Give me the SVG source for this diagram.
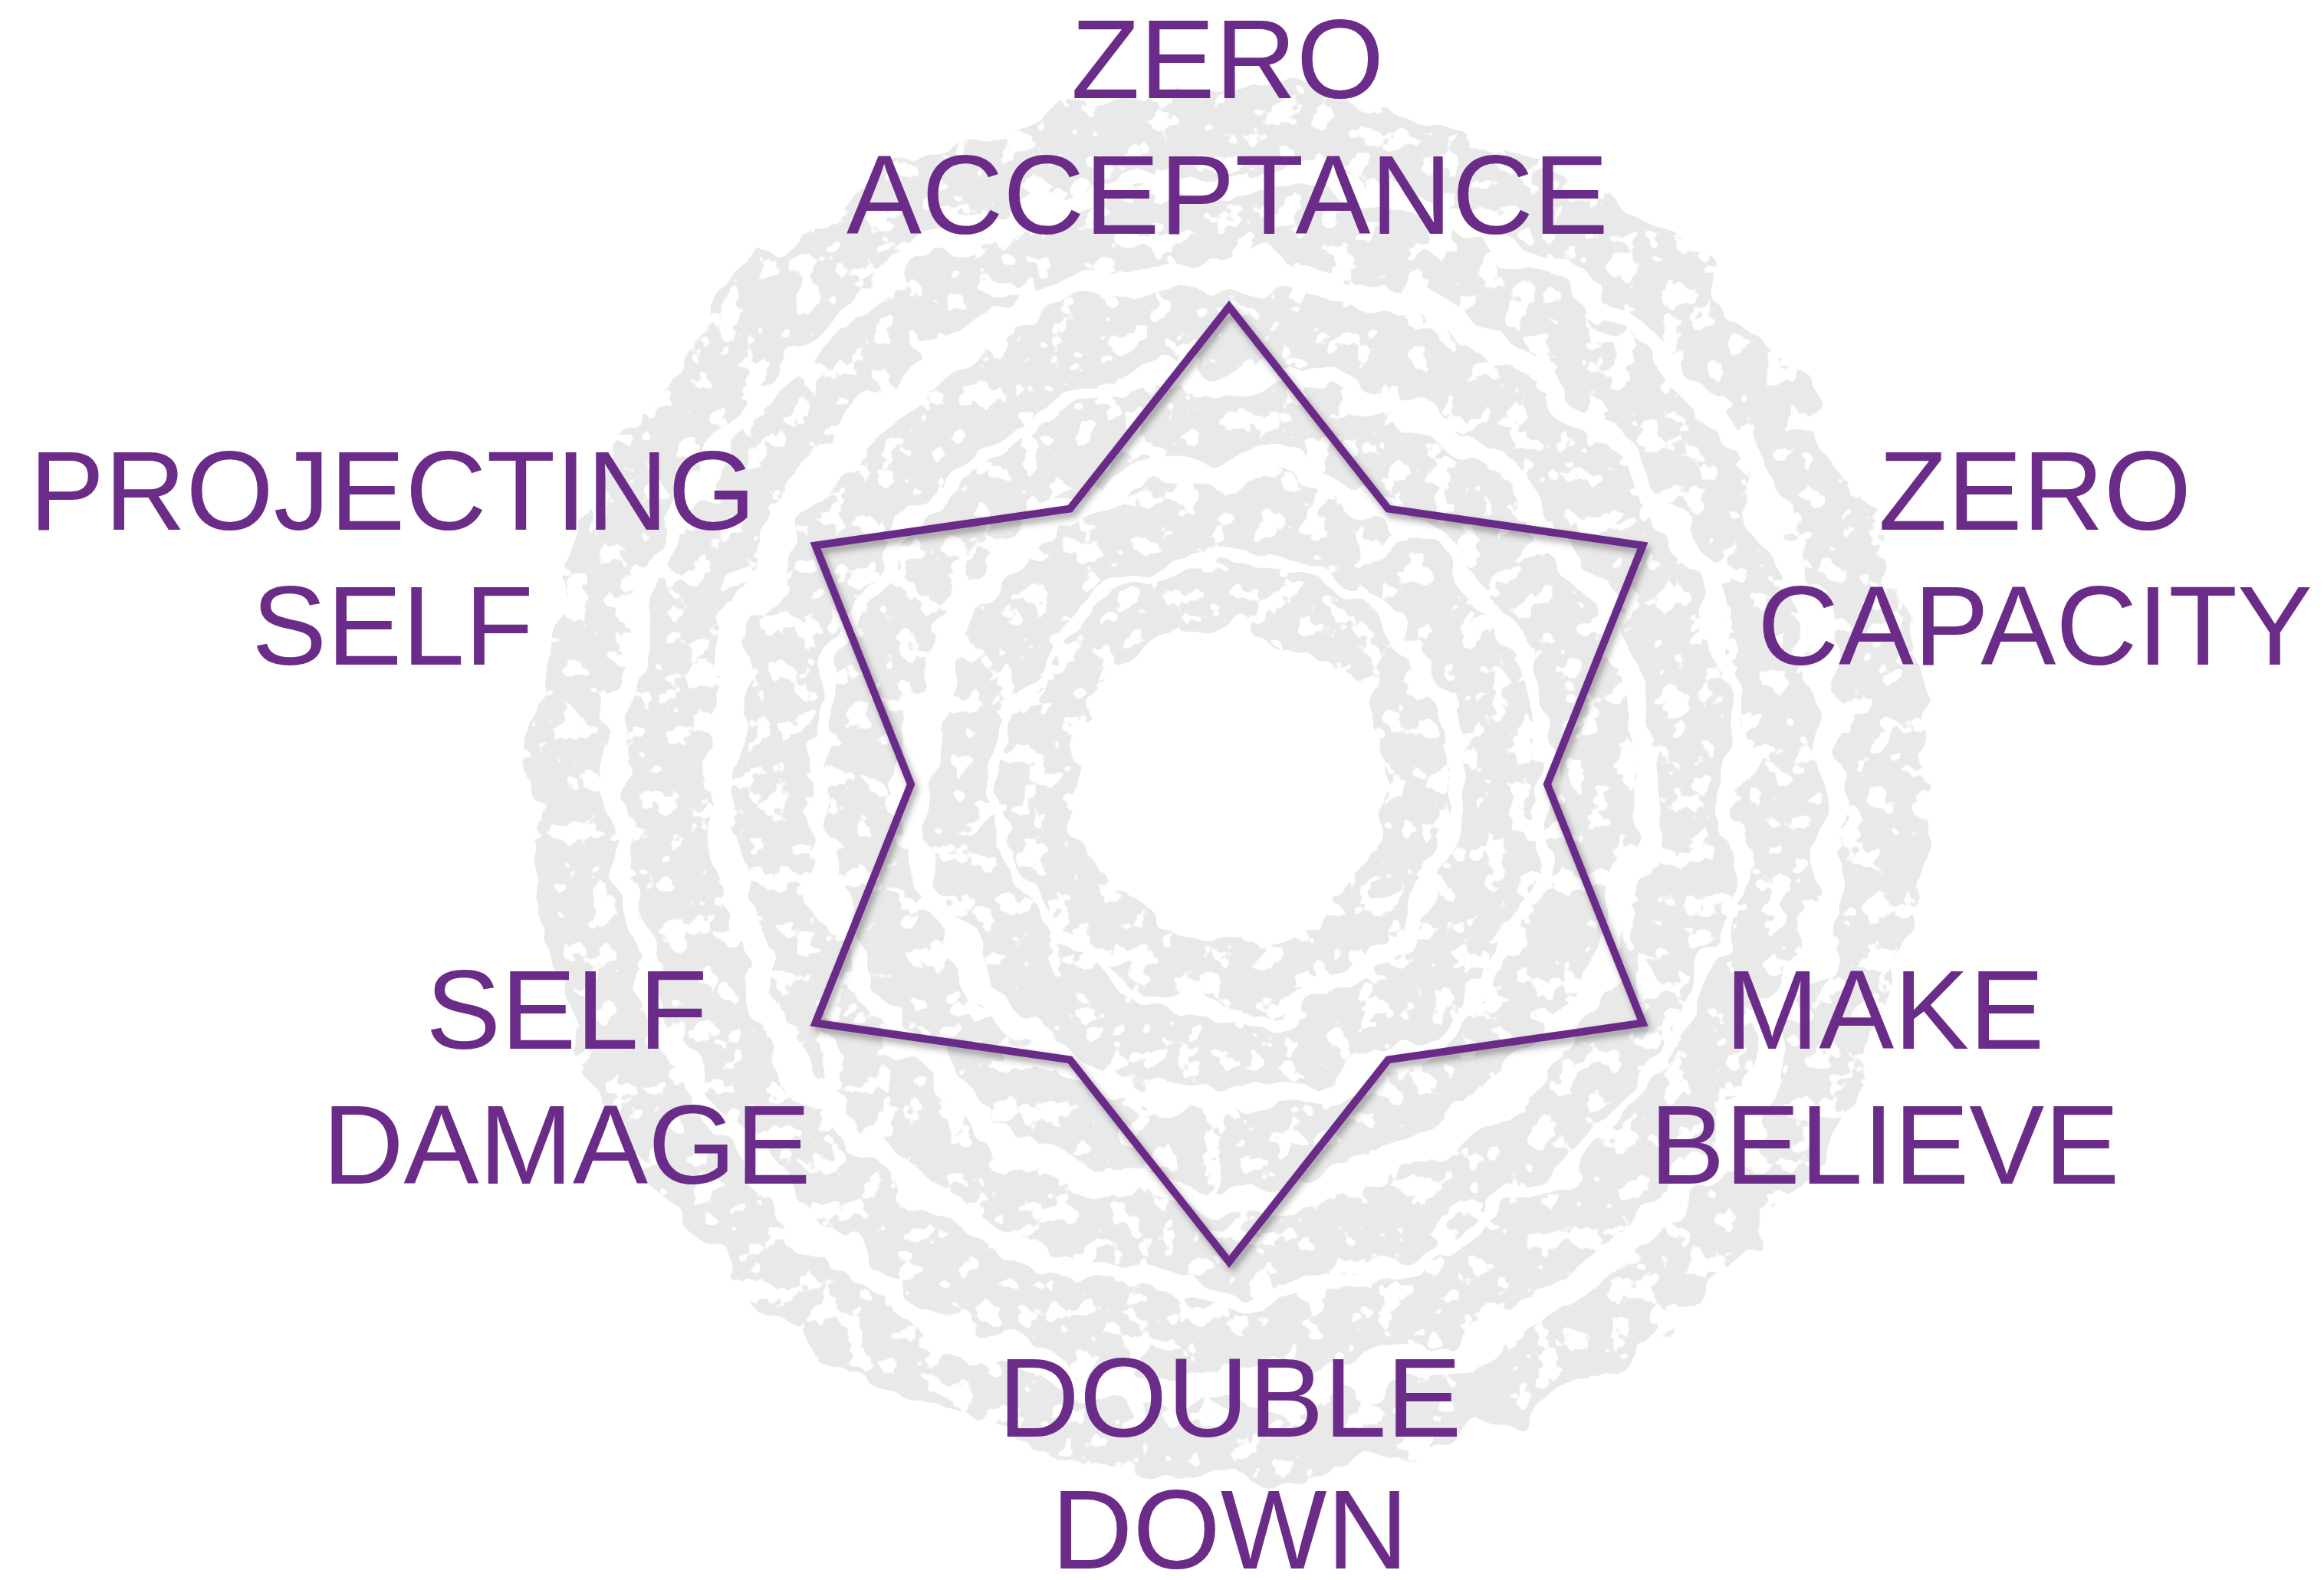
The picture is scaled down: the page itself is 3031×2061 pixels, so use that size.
<svg xmlns="http://www.w3.org/2000/svg" width="3031" height="2061" viewBox="0 0 3031 2061">
<style>
.lbl{font-family:"Liberation Sans",Arial,Helvetica,sans-serif;font-size:147px;fill:#6A2C88;text-anchor:middle}
.ring{fill:none;stroke:#E9E9E9;stroke-width:96}
.star{fill:none;stroke:#6A2C88;stroke-width:10;stroke-linejoin:miter;stroke-miterlimit:10}
</style>
<defs>
<filter id="rough" filterUnits="userSpaceOnUse" x="500" y="0" width="2200" height="2061">
<feTurbulence type="fractalNoise" baseFrequency="0.011" numOctaves="3" seed="4" result="n"/>
<feDisplacementMap in="SourceGraphic" in2="n" scale="75" xChannelSelector="R" yChannelSelector="G" result="d"/>
<feTurbulence type="fractalNoise" baseFrequency="0.03" numOctaves="3" seed="11" result="n2"/>
<feColorMatrix in="n2" type="matrix" values="0 0 0 0 0  0 0 0 0 0  0 0 0 0 0  -24 0 0 0 15" result="mask"/>
<feComposite in="d" in2="mask" operator="in"/>
</filter>
<filter id="shadow" filterUnits="userSpaceOnUse" x="1000" y="350" width="1220" height="1360">
<feGaussianBlur in="SourceAlpha" stdDeviation="5"/>
<feOffset dx="4" dy="6" result="b"/>
<feFlood flood-color="#000" flood-opacity="0.35"/>
<feComposite in2="b" operator="in"/>
<feMerge><feMergeNode/><feMergeNode in="SourceGraphic"/></feMerge>
</filter>
</defs>
<rect width="3031" height="2061" fill="#FFFFFF"/>
<g id="background" filter="url(#rough)">
<circle class="ring" cx="1603" cy="1025" r="858"/>
<circle class="ring" cx="1598" cy="1020" r="730"/>
<circle class="ring" cx="1608" cy="1028" r="603"/>
<circle class="ring" cx="1600" cy="1022" r="477"/>
<circle class="ring" cx="1606" cy="1026" r="352"/>
<circle class="ring" cx="1602" cy="1024" r="245" style="stroke-width:80"/>
</g>
<g id="star" filter="url(#shadow)">
<polygon class="star" points="1603,400 1810.5,663.6 2142.5,711.5 2018,1023 2142.5,1334.5 1810.5,1382.4 1603,1646 1395.5,1382.4 1063.5,1334.5 1188,1023 1063.5,711.5 1395.5,663.6"/>
</g>
<g id="zero-acceptance">
<text class="lbl" x="1601" y="128">ZERO</text>
<text class="lbl" x="1601" y="305">ACCEPTANCE</text>
</g>
<g id="zero-capacity">
<text class="lbl" x="2654" y="691">ZERO</text>
<text class="lbl" x="2654" y="867">CAPACITY</text>
</g>
<g id="make-believe">
<text class="lbl" x="2458" y="1368">MAKE</text>
<text class="lbl" x="2458" y="1544">BELIEVE</text>
</g>
<g id="double-down">
<text class="lbl" x="1604" y="1874">DOUBLE</text>
<text class="lbl" x="1604" y="2046">DOWN</text>
</g>
<g id="self-damage">
<text class="lbl" x="739" y="1368">SELF</text>
<text class="lbl" x="739" y="1544">DAMAGE</text>
</g>
<g id="projecting-self">
<text class="lbl" x="512" y="691">PROJECTING</text>
<text class="lbl" x="512" y="867">SELF</text>
</g>
</svg>
